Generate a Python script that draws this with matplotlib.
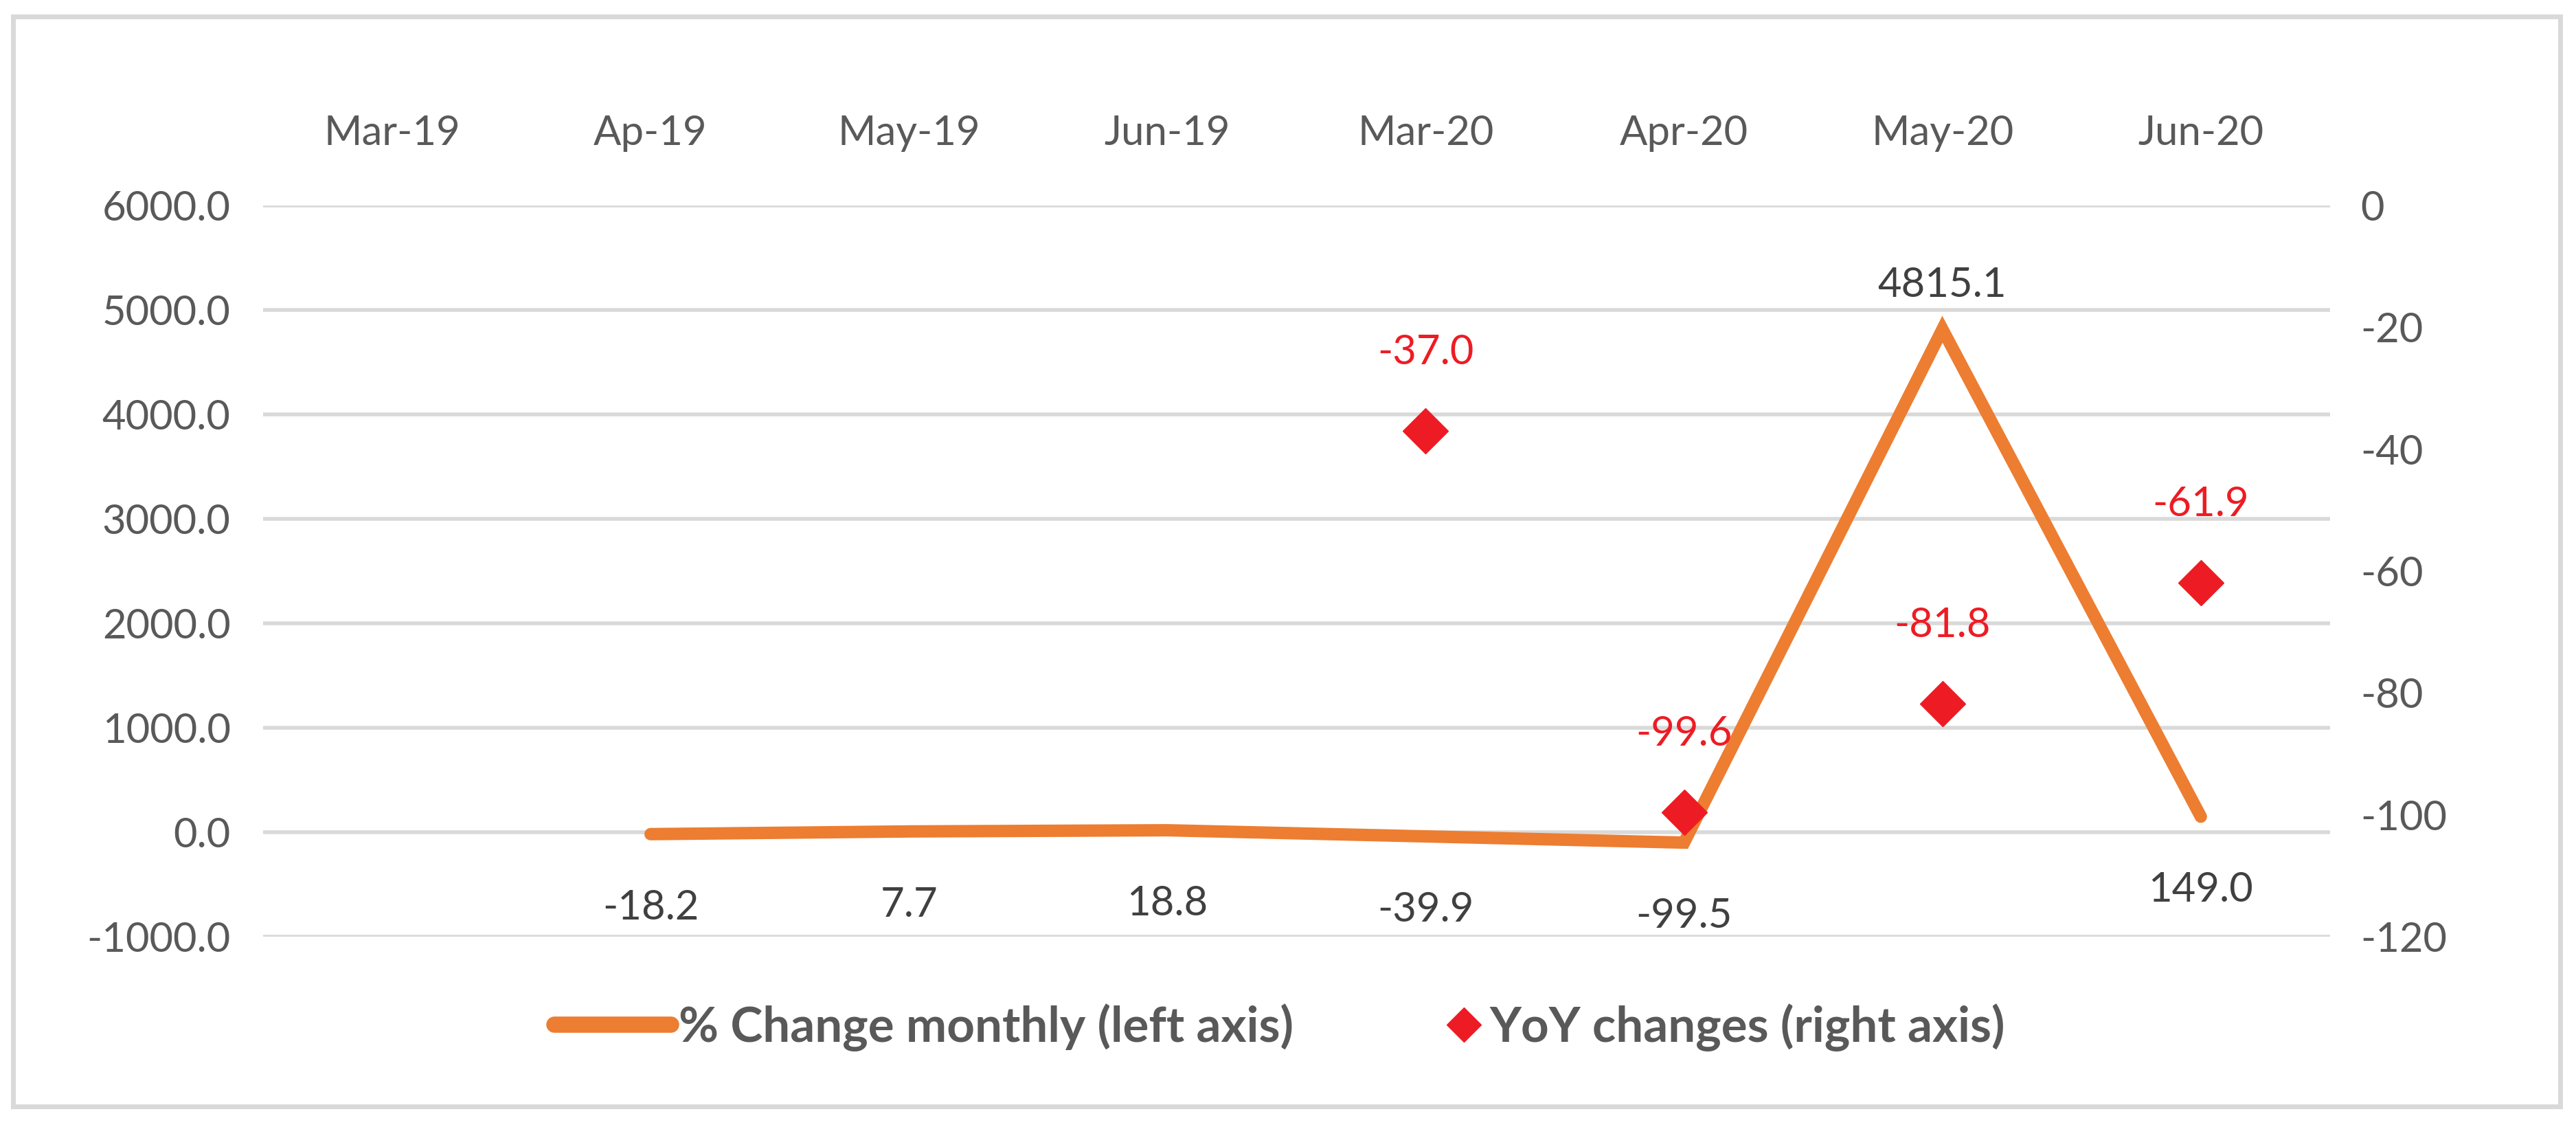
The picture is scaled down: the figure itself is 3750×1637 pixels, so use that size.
import numpy as np
import matplotlib
matplotlib.use("Agg")
import matplotlib.pyplot as plt
from matplotlib.lines import Line2D
from matplotlib.patches import Rectangle

# data
months = ["Mar-19", "Ap-19", "May-19", "Jun-19", "Mar-20", "Apr-20", "May-20", "Jun-20"]
monthly_change = [np.nan, -18.2, 7.7, 18.8, -39.9, -99.5, 4815.1, 149.0]
yoy_change = [np.nan, np.nan, np.nan, np.nan, -37.0, -99.6, -81.8, -61.9]
left_ticks = [-1000, 0, 1000, 2000, 3000, 4000, 5000, 6000]
right_ticks = [-120, -100, -80, -60, -40, -20, 0]

ORANGE = "#ED7D31"
RED = "#ED1C24"
GRID = "#D9D9D9"
TICK = "#595959"
LABEL = "#404040"

plt.rcParams["font.family"] = ["Lato", "DejaVu Sans"]
plt.rcParams["axes.unicode_minus"] = False
FS = 43
LEG_FS = 51

fig = plt.figure(figsize=(37.5, 16.37), dpi=100)
ax = fig.add_axes([0.1021, 0.1674, 0.8024, 0.6499])
x = np.arange(len(months))

ax.plot(x, monthly_change, color=ORANGE, lw=13, solid_capstyle="round",
        solid_joinstyle="miter", zorder=3)
ax.set_xlim(-0.5, len(months) - 0.5)
ax.set_ylim(-1000, 6000)
ax.set_yticks(left_ticks)
ax.set_yticklabels([f"{v:.1f}" for v in left_ticks])
ax.yaxis.grid(True, color=GRID, lw=4)
ax.set_axisbelow(True)
ax.xaxis.tick_top()
ax.set_xticks(x)
ax.set_xticklabels(months)
ax.tick_params(axis="x", length=0, pad=56, labelsize=FS, labelcolor=TICK)
ax.tick_params(axis="y", length=0, pad=34, labelsize=FS, labelcolor=TICK)
for s in ax.spines.values():
    s.set_visible(False)

for xi, v in zip(x, monthly_change):
    if np.isnan(v):
        continue
    if v > 1000:
        ax.annotate(f"{v:.1f}", (xi, v), xytext=(0, 46), textcoords="offset points",
                    ha="center", va="center", fontsize=FS, color=LABEL)
    else:
        ax.annotate(f"{v:.1f}", (xi, v), xytext=(0, -77), textcoords="offset points",
                    ha="center", va="center", fontsize=FS, color=LABEL)

ax2 = ax.twinx()
ax2.plot(x, yoy_change, ls="none", marker="D", ms=34, color=RED, mec=RED, zorder=4)
ax2.set_ylim(-120, 0)
ax2.set_yticks(right_ticks)
ax2.tick_params(axis="y", length=0, pad=32, labelsize=FS, labelcolor=TICK)
for s in ax2.spines.values():
    s.set_visible(False)
for xi, v in zip(x, yoy_change):
    if np.isnan(v):
        continue
    ax2.annotate(f"{v:.1f}", (xi, v), xytext=(0, 82), textcoords="offset points",
                 ha="center", va="center", fontsize=FS, color=RED)

# legend, two pieces so the diamond sits close to its text
h1 = Line2D([], [], color=ORANGE, lw=17, solid_capstyle="round")
h2 = Line2D([], [], ls="none", marker="D", ms=25, color=RED)
leg1 = fig.legend([h1], ["% Change monthly (left axis)"], loc="center right",
                  bbox_to_anchor=(0.519, 0.0868), frameon=False, handlelength=2.4,
                  handletextpad=0.15, prop={"size": LEG_FS, "weight": "bold"})
leg2 = fig.legend([h2], ["YoY changes (right axis)"], loc="center left",
                  bbox_to_anchor=(0.5456, 0.0868), frameon=False, handlelength=0.6,
                  handletextpad=0.23, prop={"size": LEG_FS, "weight": "bold"})
for leg in (leg1, leg2):
    for t in leg.get_texts():
        t.set_color(TICK)

# outer frame
fig.patches.append(Rectangle((0.005, 0.0165), 0.9888, 0.9688, transform=fig.transFigure,
                             fill=False, ec=GRID, lw=5))

fig.savefig("out.png", dpi=100, facecolor="white")
